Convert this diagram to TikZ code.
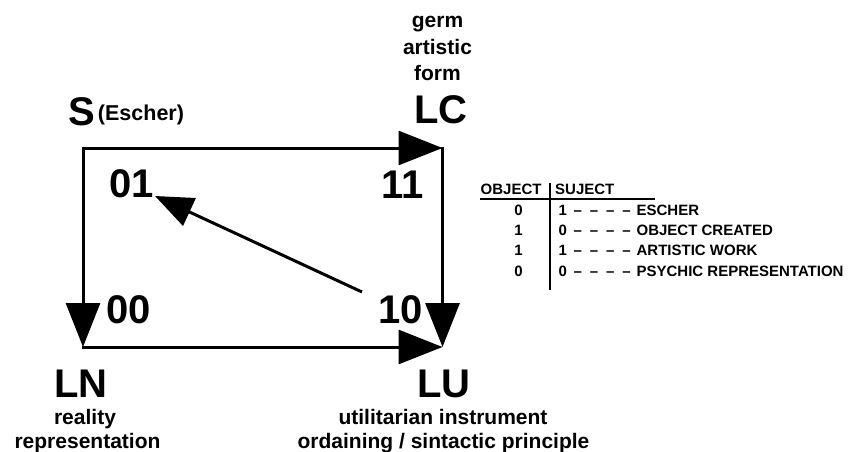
\documentclass[tikz,border=0pt]{standalone}
\usepackage{fontspec}
\setmainfont{Liberation Sans}
\usetikzlibrary{arrows.meta}
\newcommand\tabdashes{\hspace{6.5pt}–\hspace{7.9pt}–\hspace{7.9pt}–\hspace{7.9pt}–\hspace{6pt}}
\tikzset{
  bigtxt/.style={font=\fontsize{40}{40}\selectfont\bfseries, inner sep=0pt, anchor=base},
  midtxt/.style={font=\fontsize{21}{21}\selectfont\bfseries, inner sep=0pt, anchor=base},
  tabtxt/.style={font=\fontsize{15}{15}\selectfont\bfseries, inner sep=0pt, anchor=base west},
  tabnum/.style={font=\fontsize{15}{15}\selectfont\bfseries, inner sep=0pt, anchor=base},
  sqedge/.style={line width=3pt, line cap=rect, -{Triangle[length=44pt,width=34pt]}},
  diagedge/.style={line width=3pt, -{Triangle[length=38pt,width=30pt]}},
}
\begin{document}
\begin{tikzpicture}[x=1pt,y=-1pt]
\path[use as bounding box] (0,0) rectangle (851,452);
% corners
\coordinate (TL) at (83,148);
\coordinate (TR) at (442.5,148);
\coordinate (BL) at (83,347);
\coordinate (BR) at (442.5,347);
\coordinate (dtail) at (362,292);
\coordinate (dtip) at (155,196);
% square edges
\draw[sqedge] (TL) -- (TR);
\draw[sqedge] (TL) -- (BL);
\draw[sqedge] (BL) -- (BR);
\draw[sqedge] (TR) -- (BR);
\draw[diagedge] (dtail) -- (dtip);
% labels
\node[bigtxt] (S) at (81.5,125) {S};
\node[midtxt, font=\fontsize{21.5}{21.5}\selectfont\bfseries] (escher) at (141,120) {(Escher)};
\node[bigtxt] (LC) at (441,123) {LC};
\node[midtxt] (germ) at (437.5,28) {germ};
\node[midtxt] (artistic) at (437.5,54.5) {artistic};
\node[midtxt] (form) at (437.5,81) {form};
\node[bigtxt] (n01) at (132,197) {01};
\node[bigtxt] (n11) at (402.5,198) {11};
\node[bigtxt] (n00) at (128.5,323) {00};
\node[bigtxt] (n10) at (401,323) {10};
\node[bigtxt] (LN) at (81,397) {LN};
\node[bigtxt] (LU) at (444,397) {LU};
\node[midtxt] (reality) at (85,424) {reality};
\node[midtxt] (represent) at (87.5,448) {representation};
\node[midtxt] (util) at (443,424) {utilitarian instrument};
\node[midtxt] (ordain) at (443.5,448) {ordaining / sintactic principle};
% table
\node[tabtxt] (hobj) at (480.5,194) {OBJECT};
\node[tabtxt] (hsuj) at (555,194) {SUJECT};
\coordinate (ulA) at (480,199.3);
\coordinate (ulB) at (655,199.3);
\draw[line width=2pt] (ulA) -- (ulB);
\coordinate (vlA) at (550,183);
\coordinate (vlB) at (550,290);
\draw[line width=1.5pt] (vlA) -- (vlB);
\node[tabnum] (o1) at (518.5,215.5) {0};
\node[tabnum] (o2) at (518.5,235.5) {1};
\node[tabnum] (o3) at (518.5,255.5) {1};
\node[tabnum] (o4) at (518.5,276) {0};
\node[tabtxt] (s1) at (558.5,215.5) {1\tabdashes ESCHER};
\node[tabtxt] (s2) at (558.5,235.5) {0\tabdashes OBJECT CREATED};
\node[tabtxt] (s3) at (558.5,255.5) {1\tabdashes ARTISTIC WORK};
\node[tabtxt] (s4) at (558.5,276) {0\tabdashes PSYCHIC REPRESENTATION};
\end{tikzpicture}
\end{document}
